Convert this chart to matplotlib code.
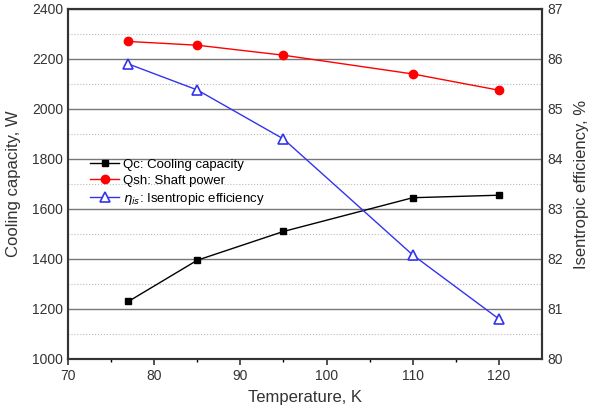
import matplotlib
matplotlib.use("Agg")
import matplotlib.pyplot as plt

plt.rcParams['font.family'] = ['Liberation Sans', 'DejaVu Sans']

# data
temp = [77, 85, 95, 110, 120]
qc = [1230, 1395, 1510, 1645, 1655]
qsh = [2270, 2255, 2215, 2140, 2075]
eff = [85.9, 85.38, 84.4, 82.08, 80.8]

fig = plt.figure(figsize=(6.04, 4.07), dpi=100)
ax = fig.add_axes([0.1126, 0.118, 0.7848, 0.86])
ax2 = ax.twinx()

# grid: solid major, dotted minor
for y in range(1000, 2401, 200):
    ax.axhline(y, color='#777777', lw=1.0, zorder=0)
for y in range(1100, 2400, 200):
    ax.axhline(y, color='#bbbbbb', lw=0.8, ls=':', zorder=0)

l1, = ax.plot(temp, qc, '-', color='black', lw=1, marker='s', ms=5,
              label='Qc: Cooling capacity')
l2, = ax.plot(temp, qsh, '-', color='red', lw=1, marker='o', ms=6,
              label='Qsh: Shaft power')
l3, = ax2.plot(temp, eff, '-', color='#3333ee', lw=1, marker='^', ms=7,
               mfc='white', mew=1.2, label=r'$\eta_{is}$: Isentropic efficiency')

ax.set_xlim(70, 125)
ax.set_ylim(1000, 2400)
ax2.set_ylim(80, 87)
ax.set_xticks([70, 80, 90, 100, 110, 120])
ax.set_xticks([75, 85, 95, 105, 115], minor=True)
ax.set_yticks(range(1000, 2401, 200))
ax2.set_yticks(range(80, 88))

for a in (ax, ax2):
    a.tick_params(labelsize=10, colors='#333333', length=4, width=1.2)
    a.tick_params(which='minor', length=2.5, width=1)
    for s in a.spines.values():
        s.set_linewidth(1.5)
        s.set_color('#333333')
ax.tick_params(axis='y', length=0)
ax2.tick_params(axis='y', length=0)

ax.set_xlabel('Temperature, K', fontsize=12, color='#333333', labelpad=5)
ax.set_ylabel('Cooling capacity, W', fontsize=12, color='#333333', labelpad=8)
ax2.set_ylabel('Isentropic efficiency, %', fontsize=12, color='#333333', labelpad=8)

ax.legend(handles=[l1, l2, l3], loc='upper left', bbox_to_anchor=(0.03, 0.595),
          frameon=False, fontsize=9.5, handlelength=2.2, labelspacing=0.3,
          handletextpad=0.3, borderpad=0.1)

fig.savefig('out.png', dpi=100)
